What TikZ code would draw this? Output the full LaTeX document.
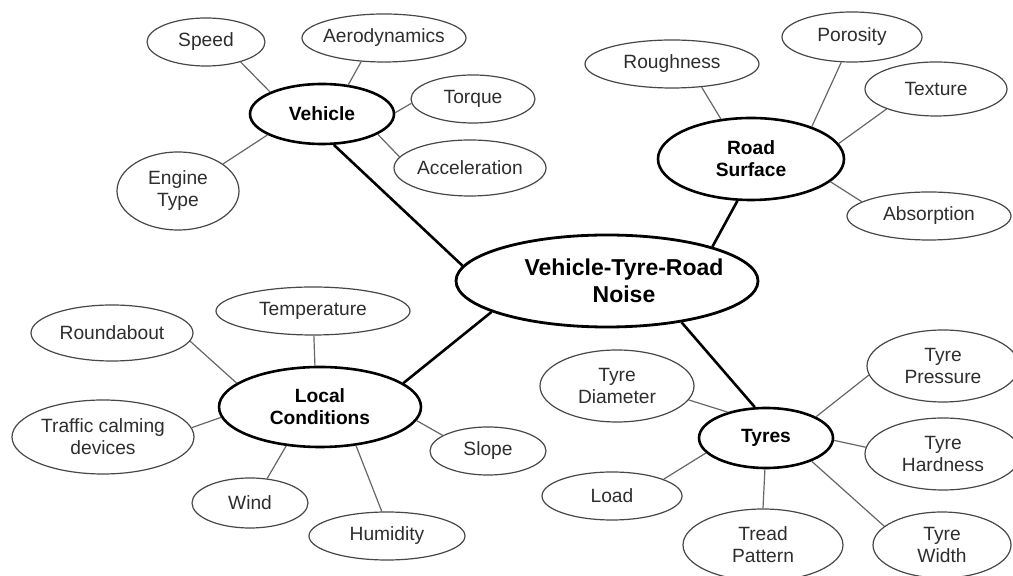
\documentclass[tikz,border=0pt]{standalone}
\usepackage{fontspec}
\setmainfont{Liberation Sans}
\usetikzlibrary{shapes.geometric}
\tikzset{
  sz/.style 2 args={minimum width=#1pt, minimum height=#2pt},
  sub/.style={ellipse, draw=black!72, line width=0.6pt, inner sep=0pt, fill=white,
    font=\fontsize{9.6}{11}\selectfont, text=black!82, align=center},
  hub/.style={ellipse, draw=black, line width=1.3pt, inner sep=0pt, fill=white,
    font=\bfseries\fontsize{9.6}{11}\selectfont, align=center},
  core/.style={ellipse, draw=black, line width=1.4pt, inner sep=0pt, fill=white},
  coretext/.style={font=\bfseries\fontsize{11.5}{13.5}\selectfont, align=center, inner sep=0pt},
  thinlink/.style={draw=black!60, line width=0.6pt},
  thicklink/.style={draw=black, line width=1.3pt},
}
\begin{document}
\begin{tikzpicture}[x=0.5pt,y=-0.5pt]
\useasboundingbox (0,0) rectangle (1013,576);

% centre
\node[core, sz={151}{46}] (main) at (607,281) {};
\node[coretext] (maintext) at (624,281) {Vehicle-Tyre-Road\\Noise};

% hubs
\node[hub, sz={72}{30}] (veh) at (322,114) {Vehicle};
\node[hub, sz={93}{41}] (road) at (751,159) {Road\\Surface};
\node[hub, sz={101}{40}] (local) at (320,407) {Local\\Conditions};
\node[hub, sz={67}{30}] (tyres) at (766,438) {Tyres};

% vehicle group
\node[sub, sz={59}{24}] (nspeed) at (206,42) {Speed};
\node[sub, sz={82}{24}, inner xsep=-2pt] (naero) at (384,38) {Aerodynamics};
\node[sub, sz={62}{24}] (ntorque) at (473,99) {Torque};
\node[sub, sz={76}{28}] (naccel) at (470,168) {Acceleration};
\node[sub, sz={61}{39}] (nengine) at (178,191) {Engine\\Type};

% road group
\node[sub, sz={87}{24}] (nrough) at (672,64) {Roughness};
\node[sub, sz={70}{25}] (nporo) at (852,37) {Porosity};
\node[sub, sz={71}{27}] (ntexture) at (936,89) {Texture};
\node[sub, sz={82}{24}] (nabsorp) at (929,216) {Absorption};

% local group
\node[sub, sz={97}{24}] (ntemp) at (313,311) {Temperature};
\node[sub, sz={81}{28}] (nround) at (112,333) {Roundabout};
\node[sub, sz={91}{37}] (ntraffic) at (103,437) {Traffic calming\\devices};
\node[sub, sz={58}{24}] (nslope) at (488,451) {Slope};
\node[sub, sz={58}{25}] (nwind) at (250,503) {Wind};
\node[sub, sz={78}{24}] (nhumid) at (387,536) {Humidity};

% tyres group
\node[sub, sz={77}{36}] (ndiam) at (617,386) {Tyre\\Diameter};
\node[sub, sz={76}{36}] (npress) at (943,366) {Tyre\\Pressure};
\node[sub, sz={78}{36}] (nhard) at (943,454) {Tyre\\Hardness};
\node[sub, sz={70}{24}] (nload) at (612,496) {Load};
\node[sub, sz={80}{36}] (ntread) at (763,545) {Tread\\Pattern};
\node[sub, sz={69}{33}] (nwidth) at (942,545) {Tyre\\Width};

% thin connectors
\draw[thinlink] (nspeed.-30.5) -- (veh.157);
\draw[thinlink] (naero.-134) -- (veh.48);
\draw[thinlink] (ntorque.184) -- (veh.1);
\draw[thinlink] (naccel.171) -- (veh.-20);
\draw[thinlink] (nengine.31) -- (veh.201);

\draw[thinlink] (nrough.-38) -- (road.127);
\draw[thinlink] (nporo.-113) -- (road.28);
\draw[thinlink] (ntexture.-158) -- (road.10);
\draw[thinlink] (nabsorp.168) -- (road.-16);

\draw[thinlink] (nround.-6) -- (local.164);
\draw[thinlink] (ntemp.-88) -- (local.97);
\draw[thinlink] (ntraffic.6) -- (local.186);
\draw[thinlink] (nwind.55) -- (local.229);
\draw[thinlink] (nhumid.102) -- (local.-47);
\draw[thinlink] (nslope.161) -- (local.-8.5);

\draw[thinlink] (ndiam.-11) -- (tyres.146);
\draw[thinlink] (nload.18) -- (tyres.194);
\draw[thinlink] (ntread.90) -- (tyres.-92);
\draw[thinlink] (npress.187) -- (tyres.23);
\draw[thinlink] (nhard.175) -- (tyres.-2);
\draw[thinlink] (nwidth.162) -- (tyres.-27);

% thick connectors
\draw[thicklink] (veh.-69) -- (main.174);
\draw[thicklink] (road.-108) -- (main.18);
\draw[thicklink] (local.16) -- (main.195);
\draw[thicklink] (tyres.110) -- (main.-29);
\end{tikzpicture}
\end{document}
